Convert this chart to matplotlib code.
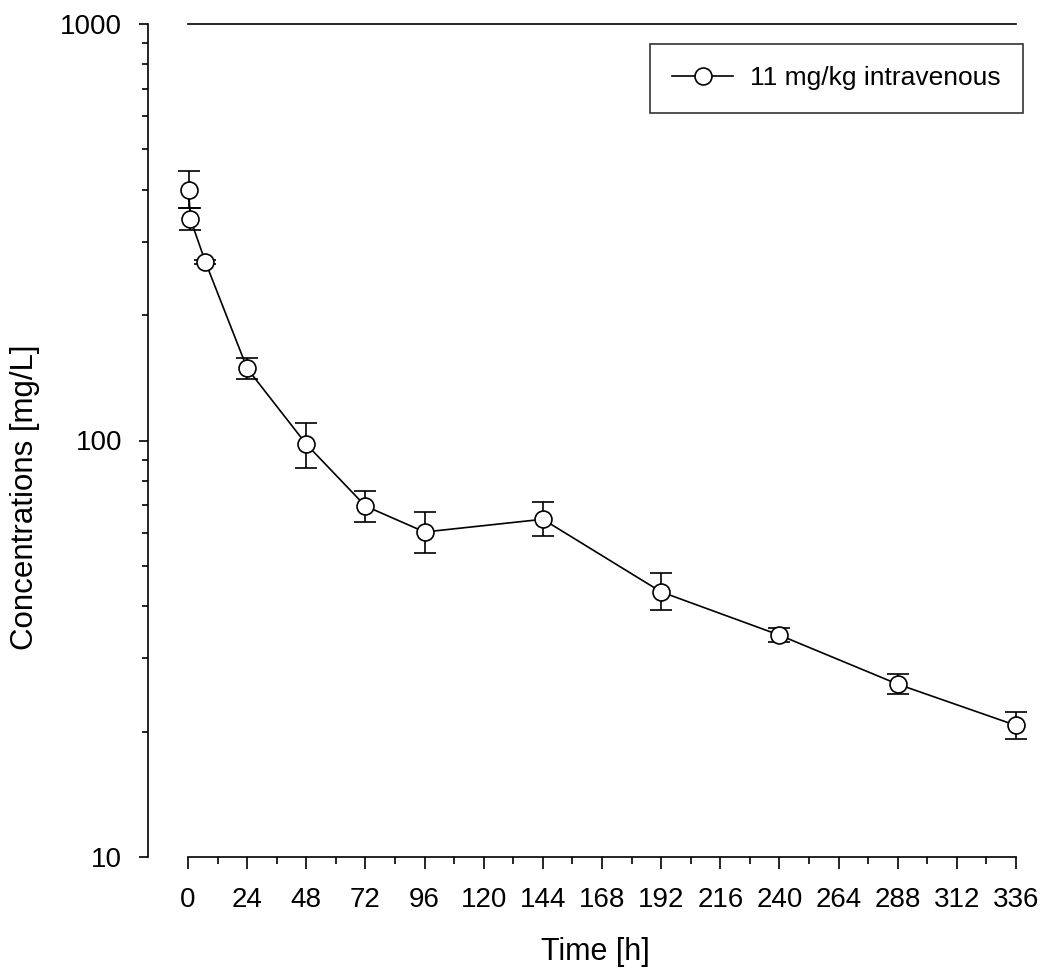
import numpy as np
import matplotlib
matplotlib.use("Agg")
import matplotlib.pyplot as plt
from matplotlib.lines import Line2D
from matplotlib.ticker import FixedLocator, LogLocator, NullFormatter

plt.rcParams['font.family'] = ['Liberation Sans', 'DejaVu Sans']

# data
time_h = [0.25, 1, 7, 24, 48, 72, 96, 144, 192, 240, 288, 336]
conc = [399, 340, 269, 149, 98, 69.6, 60.3, 64.7, 43.3, 34.1, 26.0, 20.7]
err_up = [45, 21, 3, 9, 12, 6, 7, 6.6, 4.7, 1.3, 1.5, 1.6]
err_down = [38, 19, 3, 8.5, 12, 5.7, 6.7, 5.7, 4.1, 1.3, 1.4, 1.5]
x_ticks = list(range(0, 337, 24))
label = '11 mg/kg intravenous'

fig = plt.figure(figsize=(10.55, 9.68), dpi=100)
ax = fig.add_axes([188 / 1055, 1 - 857 / 968, (1016 - 188) / 1055, (857 - 24) / 968])

ax.errorbar(time_h, conc, yerr=[err_down, err_up], fmt='-o', color='black',
            mfc='white', mec='black', ms=12.2, mew=1.2, lw=1.2,
            elinewidth=1.2, capsize=7.6, capthick=1.2, clip_on=False,
            zorder=3)

ax.set_yscale('log')
ax.set_ylim(10, 1000)
ax.set_xlim(0, 336)

ax.xaxis.set_major_locator(FixedLocator(x_ticks))
ax.xaxis.set_minor_locator(FixedLocator(list(range(12, 336, 24))))
ax.yaxis.set_major_locator(FixedLocator([10, 100, 1000]))
ax.yaxis.set_minor_locator(LogLocator(base=10, subs=np.arange(2, 10)))
ax.yaxis.set_minor_formatter(NullFormatter())
ax.set_yticklabels(['10', '100', '1000'])

ax.spines['right'].set_visible(False)
ax.spines['left'].set_position(('outward', 28.8))
for s in ['left', 'top', 'bottom']:
    ax.spines[s].set_linewidth(1.2)

ax.tick_params(axis='x', which='major', direction='out', length=8.6, width=1.2,
               labelsize=20, pad=13, top=False)
ax.tick_params(axis='x', which='minor', direction='out', length=5, width=1.2, top=False)
ax.tick_params(axis='y', which='major', direction='out', length=6.5, width=1.2,
               labelsize=20, pad=12)
ax.tick_params(axis='y', which='minor', direction='out', length=4.3, width=1.2)

ax.set_xlabel('Time [h]', fontsize=22)
ax.set_ylabel('Concentrations [mg/L]', fontsize=22.5)
ax.xaxis.set_label_coords(0.4915, -0.1145, transform=ax.transAxes)
ax.yaxis.set_label_coords(-0.197, 0.432, transform=ax.transAxes)
ax.xaxis.label.set_va('center')
ax.yaxis.label.set_va('center')

handle = Line2D([], [], color='black', marker='o', mfc='white', mec='black',
                ms=12.2, mew=1.2, lw=1.2)
leg = fig.legend([handle], [label], loc='upper right',
                 bbox_to_anchor=(1023 / 1055, 1 - 44 / 968),
                 fontsize=19, frameon=True, fancybox=False, edgecolor='black',
                 handlelength=2.3, handletextpad=0.64, borderpad=0.85,
                 borderaxespad=0)
leg.get_frame().set_linewidth(1.2)

fig.savefig('out.png', dpi=100)
